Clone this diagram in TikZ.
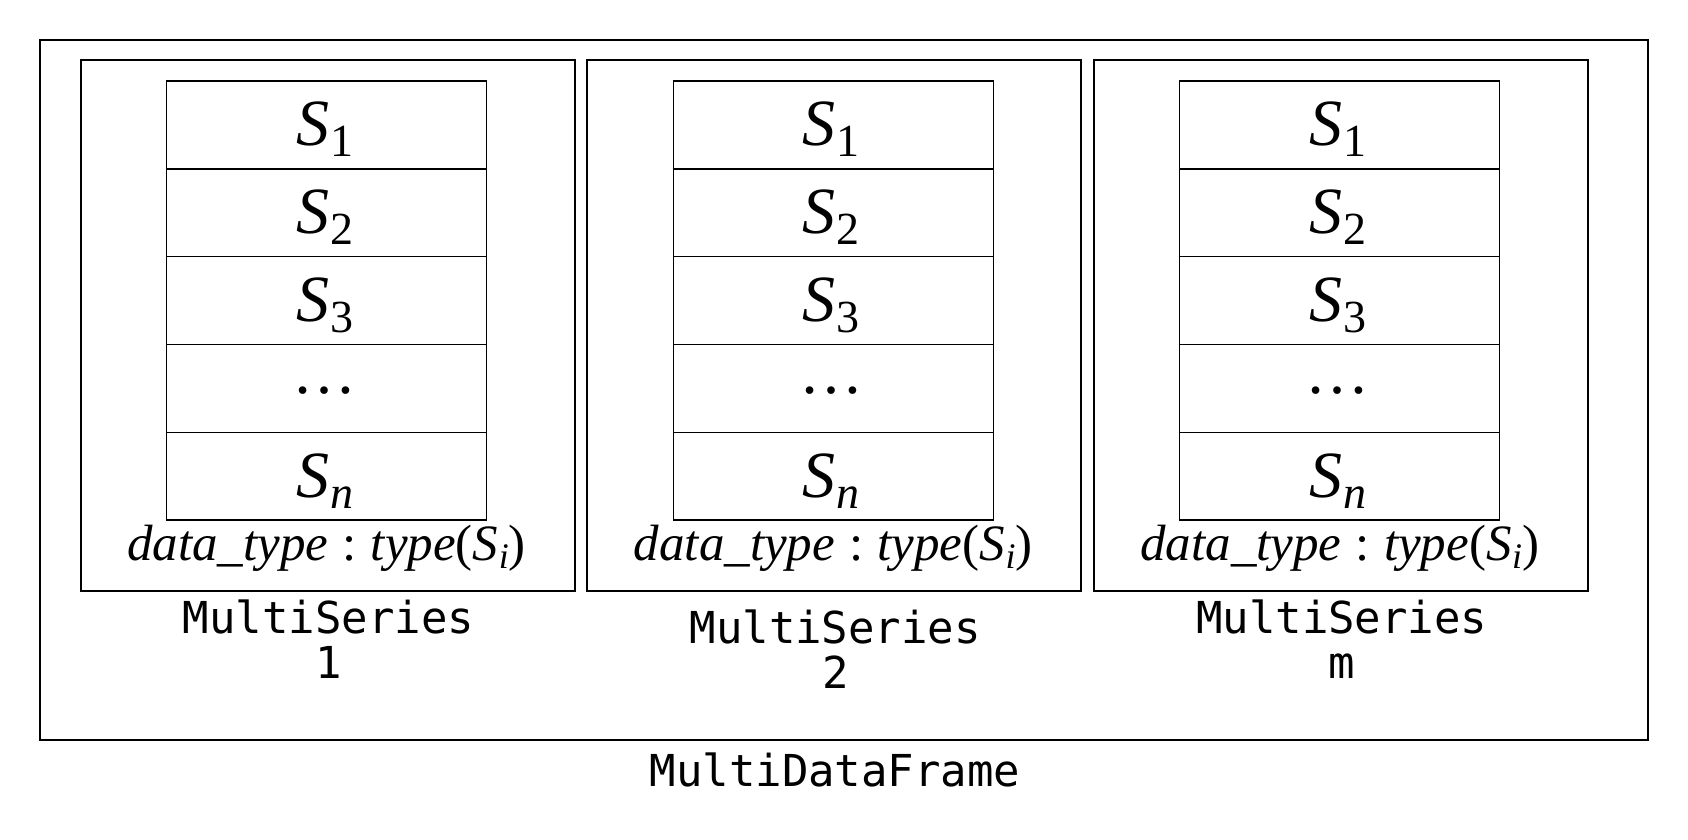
\documentclass[tikz,border=0pt]{standalone}
\usepackage{fontspec}
\setmainfont{Liberation Serif}
\setmonofont{DejaVu Sans Mono}

% series symbol S with a subscript, large size for the table cells
\newcommand\serS[1]{{\fontsize{33pt}{36pt}\selectfont\itshape S}\kern0.5pt\raisebox{-5.5pt}{\fontsize{23pt}{26pt}\selectfont #1}}
% centred three dots for the elided row
\newcommand\dotrow{{\fontsize{32pt}{36pt}\selectfont\raisebox{7.8pt}{…}}}
% type annotation under each table
\newcommand\dtype{{\fontsize{25.5pt}{30pt}\selectfont\textit{data\_type}\hspace{0.28em}:\hspace{0.28em}\textit{type}(\textit{S}\kern0.3pt\raisebox{-4pt}{\fontsize{18pt}{20pt}\selectfont\textit{i}})}}

\begin{document}
\begin{tikzpicture}[x=0.5pt,y=-0.5pt,
  frame/.style={draw, line width=1.2pt, minimum width=804pt, minimum height=350pt, inner sep=0pt},
  seriesbox/.style={draw, line width=1pt, minimum width=247pt, minimum height=265.5pt, inner sep=0pt},
  cell/.style={draw, line width=0.6pt, minimum width=160pt, minimum height=43.9pt, inner sep=0pt},
  celltext/.style={anchor=base, inner sep=0pt},
  monolabel/.style={anchor=base, align=center, inner sep=0pt,
    font=\ttfamily\fontsize{22pt}{22.5pt}\selectfont}]

  \fill[white] (0,0) rectangle (1688,840);

  % the data frame holding all series groups
  \node[frame] (mdf) at (844,390) {};
  \node[monolabel] (mdflabel) at (835,786) {MultiDataFrame};

  % one group per series: box, five cells, type line and a two-line name
  % (\ly is the baseline of the name's second line)
  \foreach \k/\cx/\ly/\lab in {1/326.5/678/1, 2/833.25/688/2, 3/1339.75/678/m} {
    \node[seriesbox] (ms\k) at (\cx+1,325.5) {};
    \foreach \r/\txt in {1/{\serS{1}}, 2/{\serS{2}}, 3/{\serS{3}}, 4/{\dotrow}, 5/{\serS{\textit{n}}}} {
      \node[cell] (c\k\r) at (\cx,{81+87.8*(\r-0.5)}) {};
      \node[celltext] (t\k\r) at (\cx-2,{81+87.8*(\r-1)+65}) {\txt};
    }
    % heavier rule below the first series
    \draw[line width=1pt] (c\k1.south west) -- (c\k1.south east);
    \node[celltext] (dt\k) at (\cx,560) {\dtype};
    \node[monolabel] (ml\k) at (\cx+2,\ly) {MultiSeries\\\lab};
  }
\end{tikzpicture}
\end{document}
